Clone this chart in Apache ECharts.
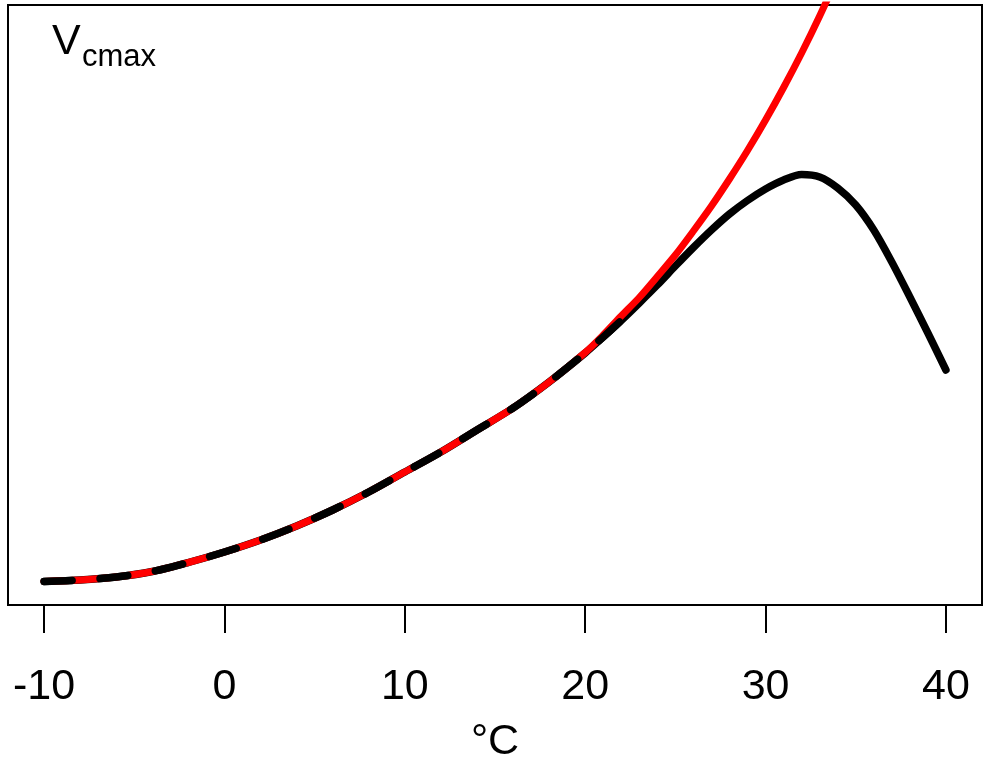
<!DOCTYPE html>
<html>
<head>
<meta charset="utf-8">
<script src="https://cdn.jsdelivr.net/npm/echarts@6/dist/echarts.min.js"></script>
<style>
  html, body { margin: 0; padding: 0; background: #fff; }
  #chart { width: 984px; height: 760px; }
</style>
</head>
<body>
<div id="chart"></div>
<script>
// leaf temperature (°C)
var tempC = [-10, -8, -6, -4, -2, 0, 2, 4, 6, 8, 10, 12, 14, 16, 18,
             20, 21, 22, 23, 24, 25, 26, 27, 28, 29, 30, 31, 32, 33, 34, 35, 36, 37, 38, 39, 40];
// Vcmax with high-temperature deactivation (black)
var vcmaxPeaked = [4.7, 5.0, 5.6, 6.7, 8.5, 10.6, 13.0, 15.8, 19.0, 22.6, 26.6, 30.6, 35.0, 39.4, 44.6,
                   50.4, 53.6, 56.9, 60.4, 64.0, 67.8, 71.5, 75.0, 78.2, 80.9, 83.2, 85.0, 86.1, 85.6, 83.4, 80.0, 75.0, 68.6, 61.6, 54.4, 47.0];
// Vcmax, plain exponential response (red)
var vcmaxExp = [4.7, 5.0, 5.6, 6.7, 8.5, 10.6, 13.0, 15.8, 19.0, 22.6, 26.6, 30.6, 35.0, 39.4, 44.6,
                50.5, 54.0, 57.8, 61.5, 65.7, 70.0, 74.8, 79.8, 85.2, 90.9, 97.0, 103.5, 110.4, 117.8, 125.7, null, null, null, null, null, null];
// both curves lie on top of each other up to about here
var overlapUntil = 22;
var tickVals = [-10, 0, 10, 20, 30, 40];

var chart = echarts.init(document.getElementById('chart'));

function pairs(vals, maxT) {
    var out = [];
    for (var i = 0; i < tempC.length; i++) {
        if (vals[i] == null) continue;
        if (maxT != null && tempC[i] > maxT) continue;
        out.push([tempC[i], vals[i]]);
    }
    return out;
}

var font = '"Liberation Sans", Arial, sans-serif';

var option = {
    backgroundColor: '#fff',
    animation: false,
    grid: {
        left: 8,
        right: 2,
        top: 5,
        bottom: 155,
        outerBoundsMode: 'none',
        show: true,
        borderColor: '#000',
        borderWidth: 2
    },
    xAxis: {
        type: 'value',
        min: -12,
        max: 42,
        name: '°C',
        nameLocation: 'middle',
        nameGap: 116,
        nameTextStyle: { fontFamily: font, fontSize: 43, color: '#000' },
        axisLine: { show: false },
        splitLine: { show: false },
        axisTick: {
            show: true,
            inside: false,
            length: 28,
            customValues: tickVals,
            lineStyle: { color: '#000', width: 2 }
        },
        axisLabel: {
            margin: 61,
            customValues: tickVals,
            fontFamily: font,
            fontSize: 43,
            color: '#000'
        }
    },
    yAxis: {
        type: 'value',
        min: 0,
        max: 120,
        show: false
    },
    graphic: [
        {
            type: 'text',
            left: 52,
            top: 21,
            style: { text: 'V', font: '43px ' + font, fill: '#000' }
        },
        {
            type: 'text',
            left: 82,
            top: 42,
            style: { text: 'cmax', font: '31px ' + font, fill: '#000' }
        }
    ],
    series: [
        {
            name: 'peaked',
            type: 'line',
            data: pairs(vcmaxPeaked),
            smooth: 0.3,
            showSymbol: false,
            z: 1,
            lineStyle: { color: '#000', width: 7.5, cap: 'round', join: 'round' }
        },
        {
            name: 'exponential',
            type: 'line',
            data: pairs(vcmaxExp),
            smooth: 0.3,
            showSymbol: false,
            z: 2,
            lineStyle: { color: '#ff0000', width: 7, cap: 'round', join: 'round' }
        },
        {
            name: 'peaked (dashed overlay)',
            type: 'line',
            data: pairs(vcmaxPeaked, overlapUntil),
            smooth: 0.3,
            showSymbol: false,
            z: 3,
            lineStyle: { color: '#000', width: 7.5, type: [28, 28], cap: 'round', join: 'round' }
        }
    ]
};

chart.setOption(option);
</script>
</body>
</html>
